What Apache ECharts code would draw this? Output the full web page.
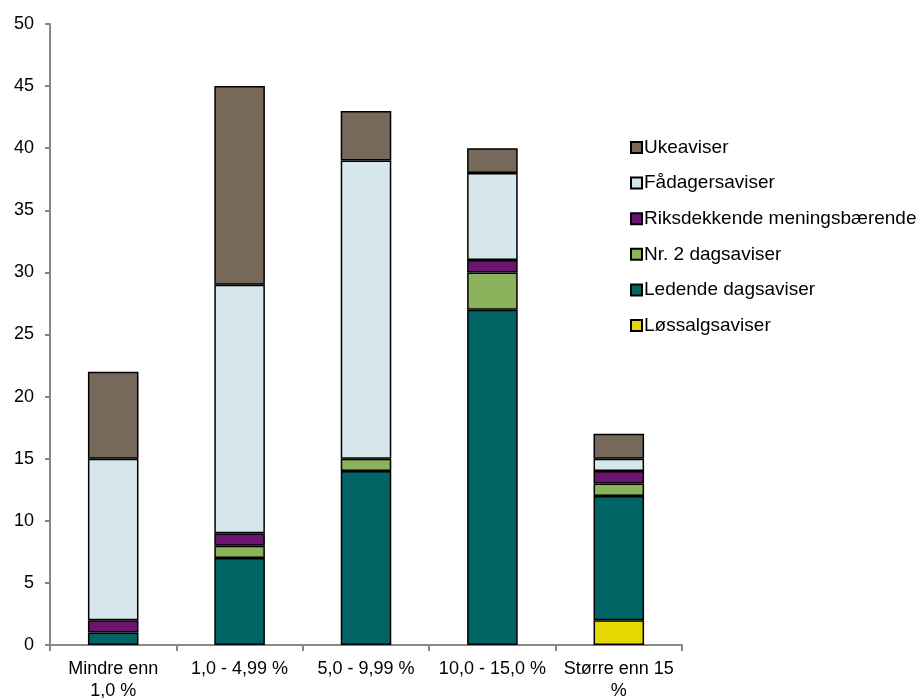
<!DOCTYPE html>
<html><head><meta charset="utf-8">
<script src="https://cdn.jsdelivr.net/npm/echarts@6/dist/echarts.min.js"></script>
<style>html,body{margin:0;padding:0;background:#fff}#c{width:919px;height:698px}</style>
</head><body><div id="c"></div>
<script>
const categories = ["Mindre enn\n1,0 %", "1,0 - 4,99 %", "5,0 - 9,99 %", "10,0 - 15,0 %", "Større enn 15\n%"];
const yTicks = [0, 5, 10, 15, 20, 25, 30, 35, 40, 45, 50];
const seriesNames = ["Løssalgsaviser", "Ledende dagsaviser", "Nr. 2 dagsaviser", "Riksdekkende meningsbærende", "Fådagersaviser", "Ukeaviser"];
const loessalg = [0, 0, 0, 0, 2];
const ledende = [1, 7, 14, 27, 10];
const nr2 = [0, 1, 1, 3, 1];
const riks = [1, 1, 0, 1, 1];
const faadager = [13, 20, 24, 7, 1];
const uke = [7, 16, 4, 2, 2];
const colors = ["#E3D800", "#006464", "#8BB15B", "#6B1470", "#D5E7EB", "#77695A"];

const values = [loessalg, ledende, nr2, riks, faadager, uke];
const font = "'Liberation Sans', Arial, sans-serif";
const chart = echarts.init(document.getElementById('c'), null, {renderer: 'canvas'});
chart.setOption({
  animation: false,
  grid: {left: 50, right: 237, top: 24, bottom: 53, containLabel: false, outerBoundsMode: 'none'},
  legend: {
    orient: 'vertical', left: 630, top: 138, itemGap: 16.6, padding: 0,
    itemWidth: 11, itemHeight: 11, icon: 'rect',
    data: seriesNames.slice().reverse(),
    textStyle: {fontFamily: font, fontSize: 19, color: '#000', padding: [0, 0, 0, -3]}
  },
  xAxis: {
    type: 'category', data: categories,
    axisLine: {lineStyle: {color: '#888', width: 2}},
    axisTick: {show: true, alignWithLabel: false, length: 6, lineStyle: {color: '#888', width: 2}},
    axisLabel: {fontFamily: font, fontSize: 18, color: '#000', margin: 13, lineHeight: 22, interval: 0}
  },
  yAxis: {
    type: 'value', min: yTicks[0], max: yTicks[yTicks.length - 1], interval: 5,
    splitLine: {show: false},
    axisLine: {show: true, lineStyle: {color: '#888', width: 2}},
    axisTick: {show: true, length: 5, lineStyle: {color: '#888', width: 2}},
    axisLabel: {fontFamily: font, fontSize: 18, color: '#000', margin: 16}
  },
  series: seriesNames.map((n, i) => ({
    name: n, type: 'bar', stack: 'a', barWidth: '40%',
    data: values[i].map(v => v === 0 ? '-' : v),
    itemStyle: {color: colors[i], borderColor: '#000', borderWidth: 1.5}
  }))
});
</script></body></html>
